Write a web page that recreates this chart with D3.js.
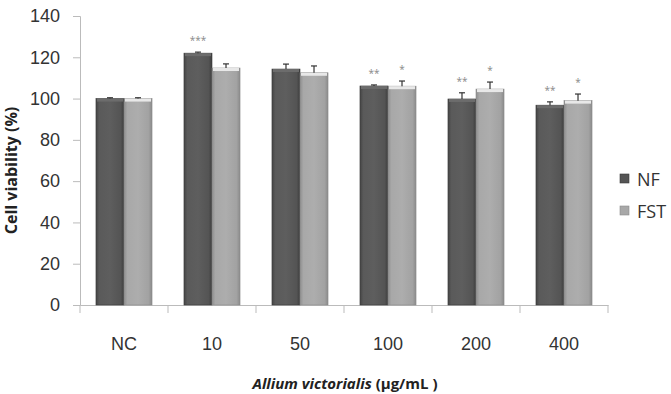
<!DOCTYPE html>
<html>
<head>
<meta charset="utf-8">
<script src="https://cdn.jsdelivr.net/npm/d3@7"></script>
<style>
  body { margin: 0; background: #fff; }
  svg { display: block; font-family: "Open Sans", "DejaVu Sans", sans-serif; }
</style>
</head>
<body>
<div id="chart"></div>
<script>
const categories = ["NC", "10", "50", "100", "200", "400"];
const seriesNames = ["NF", "FST"];
const nfValues = [100, 122, 114.3, 106.1, 99.8, 96.8];
const nfErrors = [0.4, 0.5, 2.4, 0.5, 3, 1.6];
const fstValues = [100, 114.8, 112.5, 106, 104.6, 99];
const fstErrors = [0.4, 2, 3.3, 2.5, 3.4, 3.2];
const nfStars = ["", "***", "", "**", "**", "**"];
const fstStars = ["", "", "", "*", "*", "*"];
const yTicks = [0, 20, 40, 60, 80, 100, 120, 140];

const width = 671, height = 394;
const margin = { left: 80, right: 63, top: 16, bottom: 89 };

const svg = d3.select("#chart").append("svg")
  .attr("width", width)
  .attr("height", height);

const defs = svg.append("defs");
const grads = [
  { id: "gNF", stops: ["#444", "#5a5a5a", "#5e5e5e", "#545454", "#3e3e3e"] },
  { id: "gFST", stops: ["#8e8e8e", "#a8a8a8", "#adadad", "#a2a2a2", "#8a8a8a"] }
];
grads.forEach(g => {
  const lg = defs.append("linearGradient").attr("id", g.id)
    .attr("x1", 0).attr("x2", 1).attr("y1", 0).attr("y2", 0);
  g.stops.forEach((c, i) => lg.append("stop")
    .attr("offset", [0, 0.12, 0.5, 0.88, 1][i]).attr("stop-color", c));
});

const x = d3.scaleBand()
  .domain(categories)
  .range([margin.left, width - margin.right]);

const x1 = d3.scaleBand()
  .domain(seriesNames)
  .range([0, x.bandwidth()])
  .paddingOuter(0.57);

const y = d3.scaleLinear()
  .domain([0, 140])
  .range([height - margin.bottom, margin.top]);

// axes
const yAxis = svg.append("g")
  .attr("transform", `translate(${margin.left},0)`)
  .call(d3.axisLeft(y).tickValues(yTicks).tickSize(7).tickPadding(13));
yAxis.select(".domain").attr("stroke", "#bbb");
yAxis.selectAll(".tick line").attr("stroke", "#bbb");
yAxis.selectAll("text").attr("font-size", 18).attr("fill", "#333");

const xAxis = svg.append("g")
  .attr("transform", `translate(0,${height - margin.bottom})`)
  .call(d3.axisBottom(x).tickSize(0).tickPadding(32));
xAxis.select(".domain").attr("stroke", "#bbb");
xAxis.selectAll("text").attr("font-size", 18).attr("fill", "#333");

// category separators
const seps = x.domain().map(d => x(d)).concat([width - margin.right]);
svg.append("g").selectAll("line")
  .data(seps)
  .join("line")
  .attr("x1", d => d).attr("x2", d => d)
  .attr("y1", height - margin.bottom)
  .attr("y2", height - margin.bottom + 8)
  .attr("stroke", "#bbb");

const rows = categories.map((c, i) => ({
  cat: c,
  items: [
    { s: "NF", v: nfValues[i], e: nfErrors[i], star: nfStars[i] },
    { s: "FST", v: fstValues[i], e: fstErrors[i], star: fstStars[i] }
  ]
}));

const groups = svg.append("g").selectAll("g")
  .data(rows)
  .join("g")
  .attr("transform", d => `translate(${x(d.cat)},0)`);

const bars = groups.selectAll("g.bar")
  .data(d => d.items)
  .join("g")
  .attr("class", "bar");

bars.append("rect")
  .attr("x", d => x1(d.s))
  .attr("y", d => y(d.v))
  .attr("width", x1.bandwidth())
  .attr("height", d => y(0) - y(d.v))
  .attr("fill", d => d.s === "NF" ? "url(#gNF)" : "url(#gFST)")
  .attr("stroke", d => d.s === "NF" ? "#3a3a3a" : "#8a8a8a")
  .attr("stroke-width", 0.6);

// top rim
bars.append("rect")
  .attr("x", d => x1(d.s) + 1)
  .attr("y", d => y(d.v))
  .attr("width", x1.bandwidth() - 2)
  .attr("height", 3)
  .attr("fill", d => d.s === "NF" ? "#6c6c6c" : "#e8e8e8");

// error bars
const errG = bars.append("g")
  .attr("stroke", "#333")
  .attr("stroke-width", 1.2);
errG.append("line")
  .attr("x1", d => x1(d.s) + x1.bandwidth() / 2)
  .attr("x2", d => x1(d.s) + x1.bandwidth() / 2)
  .attr("y1", d => y(d.v))
  .attr("y2", d => y(d.v + d.e));
errG.append("line")
  .attr("x1", d => x1(d.s) + x1.bandwidth() / 2 - 3)
  .attr("x2", d => x1(d.s) + x1.bandwidth() / 2 + 3)
  .attr("y1", d => y(d.v + d.e))
  .attr("y2", d => y(d.v + d.e));

// significance stars
bars.filter(d => d.star).append("text")
  .attr("x", d => x1(d.s) + x1.bandwidth() / 2)
  .attr("y", d => y(d.v + d.e) - 8)
  .attr("text-anchor", "middle")
  .attr("font-size", 10)
  .attr("fill", "#888")
  .text(d => d.star);

// axis titles
svg.append("text")
  .attr("transform", `translate(17,${(y(0) + y(140)) / 2 + 10}) rotate(-90)`)
  .attr("text-anchor", "middle")
  .attr("font-size", 16)
  .attr("font-weight", "bold")
  .attr("fill", "#222")
  .text("Cell viability (%)");

const xt = svg.append("text")
  .attr("x", (margin.left + width - margin.right) / 2 + 1)
  .attr("y", 389)
  .attr("text-anchor", "middle")
  .attr("font-size", 15)
  .attr("font-weight", "bold")
  .attr("fill", "#222");
xt.append("tspan").attr("font-style", "italic").text("Allium victorialis");
xt.append("tspan").text(" (μg/mL )");

// legend
const legend = svg.append("g")
  .attr("transform", "translate(620,174)")
  .selectAll("g")
  .data(seriesNames)
  .join("g")
  .attr("transform", (d, i) => `translate(0,${i * 32})`);
legend.append("rect")
  .attr("width", 9).attr("height", 9)
  .attr("fill", d => d === "NF" ? "#555" : "#a8a8a8")
  .attr("stroke", d => d === "NF" ? "#3a3a3a" : "#8a8a8a")
  .attr("stroke-width", 0.6);
legend.append("text")
  .attr("x", 17).attr("y", 12)
  .attr("font-size", 18)
  .attr("fill", "#333")
  .text(d => d);
</script>
</body>
</html>
